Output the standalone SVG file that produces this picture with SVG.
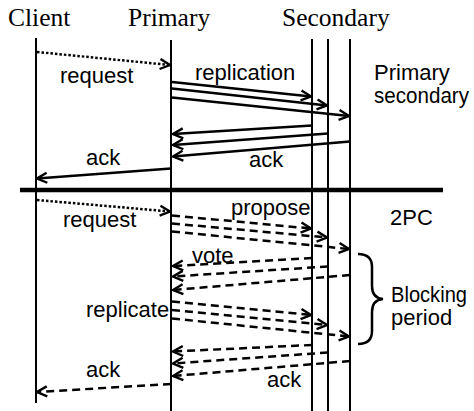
<svg xmlns="http://www.w3.org/2000/svg" width="474" height="411" viewBox="0 0 474 411">
<style>
.title{font-family:"Liberation Serif","Times New Roman",serif;font-size:25.5px;fill:#000}
.lbl{font-family:"Liberation Sans",Arial,sans-serif;font-size:22px;fill:#000}
.life{stroke:#000;stroke-width:2;fill:none}
.msg{stroke:#000;stroke-width:2.5;fill:none;marker-end:url(#ah)}
.dash{stroke-dasharray:8 5}
.dot{stroke-dasharray:2.5 2}
</style>
<defs>
<marker id="ah" markerUnits="userSpaceOnUse" markerWidth="14" markerHeight="14" viewBox="0 0 14 14" refX="12" refY="7" orient="auto">
<path d="M2,2 L12,7 L2,12" fill="none" stroke="#000" stroke-width="2.4"/>
</marker>
</defs>
<rect width="474" height="411" fill="#fff"/>
<g id="client">
<text class="title" x="8" y="26">Client</text>
<line class="life" x1="36" y1="38" x2="36" y2="403"/>
</g>
<g id="primary">
<text class="title" x="128" y="26">Primary</text>
<line class="life" x1="171" y1="40" x2="171" y2="411"/>
</g>
<g id="secondary">
<text class="title" x="282" y="26">Secondary</text>
<line class="life" x1="312" y1="39" x2="312" y2="411"/>
<line class="life" x1="328" y1="39" x2="328" y2="411"/>
<line class="life" x1="350" y1="39" x2="350" y2="411"/>
</g>
<g id="divider">
<line x1="20" y1="190" x2="443" y2="190" stroke="#000" stroke-width="4.5"/>
</g>
<g id="connectors">
<line class="msg dot" x1="37" y1="52" x2="170" y2="65"/>
<line class="msg" x1="172" y1="82" x2="311" y2="96.5"/>
<line class="msg" x1="172" y1="88.5" x2="327" y2="105.5"/>
<line class="msg" x1="172" y1="97.5" x2="349" y2="116"/>
<line class="msg" x1="312" y1="125.5" x2="173" y2="134"/>
<line class="msg" x1="328" y1="133.5" x2="173" y2="145"/>
<line class="msg" x1="350" y1="141.5" x2="173" y2="156.5"/>
<line class="msg" x1="171" y1="168.5" x2="37" y2="178.5"/>
<line class="msg dot" x1="37" y1="200" x2="170" y2="211.5"/>
<line class="msg dash" x1="172" y1="215.5" x2="311" y2="228.5"/>
<line class="msg dash" x1="172" y1="223.5" x2="327" y2="237.5"/>
<line class="msg dash" x1="172" y1="231.5" x2="349" y2="249"/>
<line class="msg dash" x1="312" y1="258" x2="173" y2="266"/>
<line class="msg dash" x1="328" y1="266.5" x2="173" y2="276.5"/>
<line class="msg dash" x1="350" y1="275" x2="173" y2="290"/>
<line class="msg dash" x1="172" y1="301.5" x2="311" y2="315"/>
<line class="msg dash" x1="172" y1="310" x2="327" y2="325"/>
<line class="msg dash" x1="172" y1="318.5" x2="349" y2="336.5"/>
<line class="msg dash" x1="312" y1="345" x2="173" y2="351.5"/>
<line class="msg dash" x1="328" y1="352.5" x2="173" y2="363.5"/>
<line class="msg dash" x1="350" y1="361" x2="173" y2="376"/>
<line class="msg dash" x1="171" y1="384" x2="37" y2="392"/>
</g>
<g id="brace">
<path d="M358,254 Q372,254 372,267 L372,286 Q372,298 383,299 Q372,300 372,312 L372,331 Q372,344 358,344" fill="none" stroke="#000" stroke-width="2.5"/>
</g>
<g id="labels">
<text class="lbl" x="60" y="83">request</text>
<text class="lbl" x="195" y="80">replication</text>
<text class="lbl" x="374" y="80">Primary</text>
<text class="lbl" x="374" y="103" textLength="95" lengthAdjust="spacingAndGlyphs">secondary</text>
<text class="lbl" x="86" y="165">ack</text>
<text class="lbl" x="249" y="166.5">ack</text>
<text class="lbl" x="63" y="226.5">request</text>
<text class="lbl" x="231" y="214.5">propose</text>
<text class="lbl" x="390" y="225">2PC</text>
<text class="lbl" x="192" y="263">vote</text>
<text class="lbl" x="86" y="316.5">replicate</text>
<text class="lbl" x="391" y="302" textLength="76" lengthAdjust="spacingAndGlyphs">Blocking</text>
<text class="lbl" x="391" y="325">period</text>
<text class="lbl" x="267" y="386.5">ack</text>
<text class="lbl" x="86" y="376.5">ack</text>
</g>
</svg>
